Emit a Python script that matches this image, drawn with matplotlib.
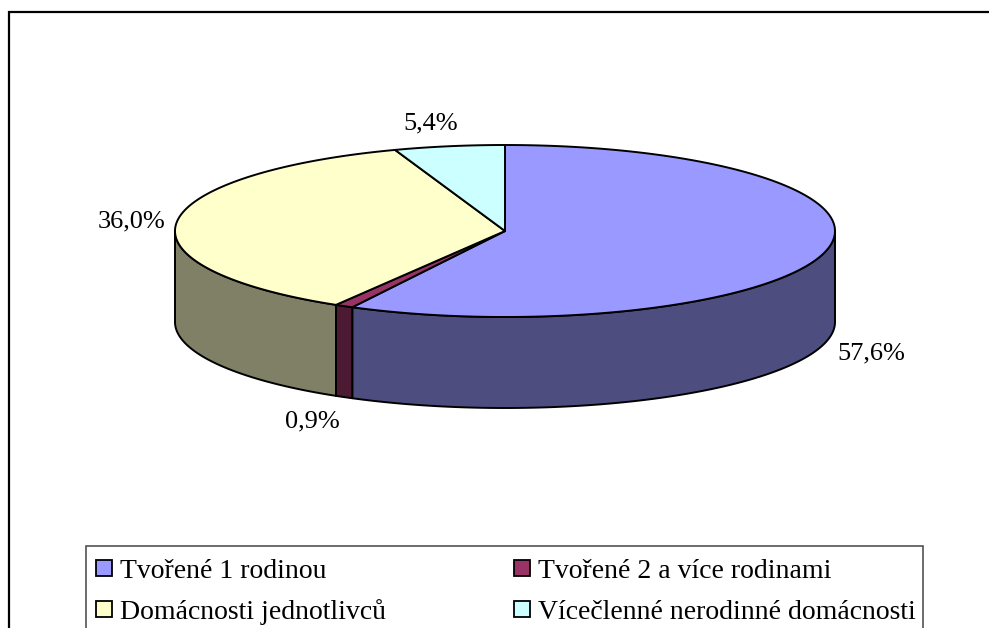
import numpy as np
import matplotlib
matplotlib.use('Agg')
import matplotlib.pyplot as plt
from matplotlib.patches import Polygon, Rectangle

categories = ['Tvořené 1 rodinou', 'Tvořené 2 a více rodinami',
              'Domácnosti jednotlivců', 'Vícečlenné nerodinné domácnosti']
values = [57.6, 0.9, 36.0, 5.4]
value_labels = ['57,6%', '0,9%', '36,0%', '5,4%']
colors = ['#9999FF', '#993366', '#FFFFCC', '#CCFFFF']
side_colors = ['#4D4D80', '#4D1A33', '#808066', '#668080']

plt.rcParams['font.family'] = ['Liberation Serif', 'DejaVu Serif']

# pie geometry in pixels
cx, cy = 505, 231
rx, ry = 330, 86
depth = 91
label_pos = [(871, 359), (312, 427), (132, 227), (431, 129)]
legend_pos = [(95, 578), (513, 578), (95, 619), (513, 619)]


def rim(a, b, drop=0):
    # points along the ellipse, angle in degrees clockwise from 12 o'clock
    t = np.radians(np.linspace(a, b, max(int(abs(b - a) * 2), 2)))
    return np.column_stack([cx + rx * np.sin(t), cy - ry * np.cos(t) + drop])


fig = plt.figure(figsize=(9.89, 6.28), dpi=100)
ax = fig.add_axes([0, 0, 1, 1])
ax.set_xlim(0, 989)
ax.set_ylim(628, 0)
ax.axis('off')

# chart frame, cut off at right and bottom like the source
ax.plot([9, 9, 989], [628, 11.5, 11.5], color='black', lw=1.6,
        solid_joinstyle='miter')

edges = np.concatenate([[0], np.cumsum(values)]) / sum(values) * 360

# side walls, only the front half of the rim is visible
for i in range(len(values)):
    a = max(edges[i], 90)
    b = min(edges[i + 1], 270)
    if a < b:
        top = rim(a, b)
        bottom = rim(a, b, depth)[::-1]
        ax.add_patch(Polygon(np.vstack([top, bottom]), closed=True,
                             facecolor=side_colors[i], edgecolor='black',
                             lw=1.4, joinstyle='round'))

# top faces go over the walls
for i in range(len(values)):
    pts = np.vstack([[cx, cy], rim(edges[i], edges[i + 1])])
    ax.add_patch(Polygon(pts, closed=True, facecolor=colors[i],
                         edgecolor='black', lw=1.4, joinstyle='round'))

for (x, y), txt in zip(label_pos, value_labels):
    ax.text(x, y, txt, fontsize=19, ha='center', va='baseline', color='black')

# legend box, also cut by the bottom of the image
ax.plot([86, 86, 923, 923], [628, 545.5, 545.5, 628], color='#444444', lw=1.1,
        solid_joinstyle='miter')
for (x, y), name, col in zip(legend_pos, categories, colors):
    ax.add_patch(Rectangle((x + 1, y - 18), 16, 16, facecolor=col, edgecolor='black', lw=1.3))
    ax.text(x + 25, y, name, fontsize=20, ha='left', va='baseline', color='black')

fig.savefig('out.png', dpi=100)
